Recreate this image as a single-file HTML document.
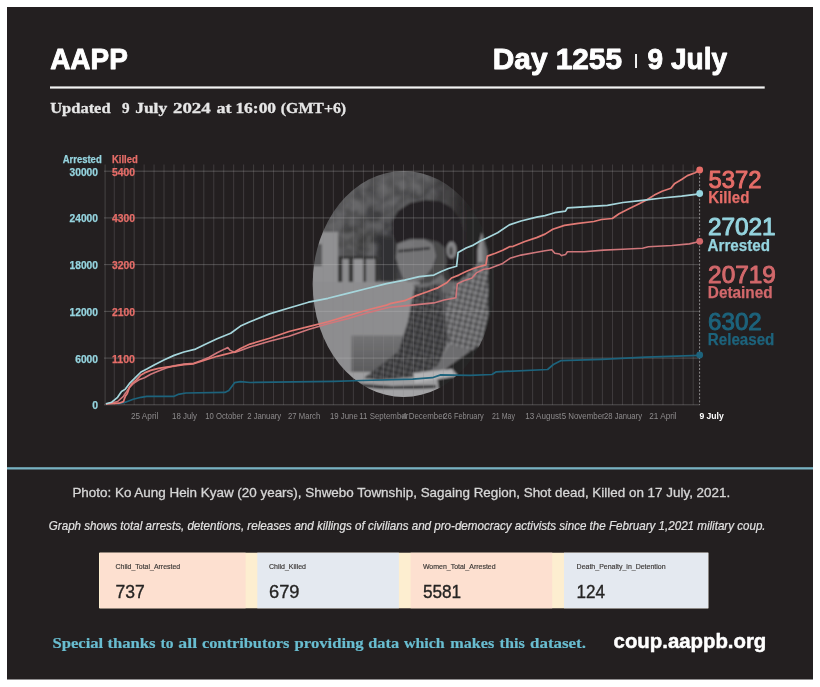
<!DOCTYPE html>
<html lang="en"><head><meta charset="utf-8"><title>AAPP - Day 1255</title>
<style>html,body{margin:0;padding:0;background:#fff;}body{width:820px;height:687px;overflow:hidden;}svg{display:block;}text{font-family:"Liberation Sans",sans-serif;}.serif{font-family:"Liberation Serif",serif;}</style>
</head><body>
<svg width="820" height="687" viewBox="0 0 820 687">
<defs>
<clipPath id="ell"><ellipse cx="403.5" cy="284" rx="90.8" ry="113"/></clipPath>
<filter id="b2" x="-20%" y="-20%" width="140%" height="140%"><feGaussianBlur stdDeviation="2"/></filter>
<filter id="b4" x="-30%" y="-30%" width="160%" height="160%"><feGaussianBlur stdDeviation="4"/></filter>
<filter id="noise" x="0" y="0" width="100%" height="100%"><feTurbulence type="fractalNoise" baseFrequency="0.09" numOctaves="2" seed="7"/><feColorMatrix type="matrix" values="0 0 0 0 0.27  0 0 0 0 0.27  0 0 0 0 0.28  1.8 1.8 0 0 -1.3"/></filter>
<filter id="b1" x="-10%" y="-10%" width="120%" height="120%"><feGaussianBlur stdDeviation="0.9"/></filter>
<pattern id="plaid" width="5.5" height="5.5" patternUnits="userSpaceOnUse" patternTransform="rotate(14)"><rect x="0" y="0" width="2.6" height="5.5" fill="#2e2e30" fill-opacity="0.42"/><rect x="0" y="0" width="5.5" height="2.6" fill="#2e2e30" fill-opacity="0.38"/><rect x="4" y="0" width="0.8" height="5.5" fill="#c8c8ca" fill-opacity="0.4"/><rect x="0" y="4" width="5.5" height="0.8" fill="#c8c8ca" fill-opacity="0.4"/></pattern>
</defs>
<rect x="7" y="7" width="806" height="672.5" fill="#231f20"/>
<text x="50.2" y="69" font-size="29" font-weight="700" fill="#fff" stroke="#fff" stroke-width="0.9" stroke-linejoin="round" textLength="77.6" lengthAdjust="spacingAndGlyphs">AAPP</text>
<text x="492.8" y="68.6" font-size="29" font-weight="700" fill="#fff" stroke="#fff" stroke-width="0.9" stroke-linejoin="round" textLength="129.2" lengthAdjust="spacingAndGlyphs">Day 1255</text>
<text x="636" y="65" font-size="14.4" font-weight="700" fill="#fff" text-anchor="middle">|</text>
<text x="647.6" y="68.6" font-size="29" font-weight="700" fill="#fff" stroke="#fff" stroke-width="0.9" stroke-linejoin="round" textLength="79.4" lengthAdjust="spacingAndGlyphs">9 July</text>
<rect x="50" y="86.4" width="714.7" height="2.2" fill="#f2f2f2"/>
<text class="serif" y="113" font-size="15" font-weight="700" fill="#e6e6e6" stroke="#e6e6e6" stroke-width="0.3"><tspan x="50.2" textLength="60.4" lengthAdjust="spacingAndGlyphs">Updated</tspan> <tspan x="122.0" textLength="7.6" lengthAdjust="spacingAndGlyphs">9</tspan> <tspan x="135.2" textLength="32.0" lengthAdjust="spacingAndGlyphs">July</tspan> <tspan x="173.0" textLength="37.7" lengthAdjust="spacingAndGlyphs">2024</tspan> <tspan x="216.5" textLength="15.0" lengthAdjust="spacingAndGlyphs">at</tspan> <tspan x="235.4" textLength="40.7" lengthAdjust="spacingAndGlyphs">16:00</tspan> <tspan x="280.8" textLength="65.3" lengthAdjust="spacingAndGlyphs">(GMT+6)</tspan></text>
<g id="photo" clip-path="url(#ell)">
<g filter="url(#b1)">
<rect x="300" y="160" width="210" height="250" fill="#a4a4a6"/>
<path d="M300,160 H510 V280 H376 V258 H338 V232 H300 Z" fill="#545456"/>
<g filter="url(#b4)">
<ellipse cx="395" cy="182" rx="30" ry="9" fill="#5e5e60"/>
<ellipse cx="350" cy="204" rx="13" ry="11" fill="#5e5e60"/>
<ellipse cx="360" cy="240" rx="22" ry="14" fill="#48484a"/>
<ellipse cx="334" cy="224" rx="9" ry="8" fill="#5e5e60"/>
<ellipse cx="378" cy="214" rx="11" ry="12" fill="#4a4a4c"/>
<ellipse cx="386" cy="246" rx="10" ry="22" fill="#39393b"/>
</g>
<rect x="300" y="160" width="210" height="100" filter="url(#noise)" opacity="0.55"/>
<linearGradient id="rdark" x1="0" y1="0" x2="1" y2="0"><stop offset="0" stop-color="#2c292a" stop-opacity="0"/><stop offset="1" stop-color="#2c292a" stop-opacity="1"/></linearGradient>
<rect x="428" y="160" width="40" height="125" fill="url(#rdark)"/>
<rect x="467" y="160" width="45" height="125" fill="#2c292a"/>
<rect x="378" y="236" width="19" height="48" fill="#38383a" filter="url(#b2)"/>
<path d="M397,244 L392,234 L392,222 L398,211 L410,203 L425,200 L440,201 L452,208 L460,219 L464,232 L464,250 L470,268 L480,262 L490,262 V282 H452 L446,264 L445,248 L438,242 L425,239 L410,239 Z" fill="#2b2829"/>
<path d="M300,232 H338 V284 H300 Z" fill="#a6a6a8"/>
<rect x="312" y="244" width="10" height="22" fill="#666668"/>
<rect x="338" y="256" width="40" height="27" fill="#3c3c3e"/>
<rect x="342.3" y="259" width="6.5" height="23" fill="#a3a3a5"/>
<rect x="353.2" y="259" width="10" height="23" fill="#a8a8aa"/>
<rect x="366" y="259" width="9" height="23" fill="#9a9a9c"/>
<path d="M397,244 L408,240 L425,240 L438,242 L445,248 L447,262 L442,274 L430,283 L412,285 L403,278 L399,268 L396,258 Z" fill="#555557"/>
<path d="M397,244 L408,240 L425,240 L433,244 L436,256 L432,268 L424,278 L411,284 L403,278 L399,268 L396,258 Z" fill="#858587"/>
<path d="M399,243 L412,241 L414,247 L400,249 Z" fill="#8e8e90" fill-opacity="0.5"/>
<path d="M398,250 L430,247 L430,249.5 L398,252.5 Z" fill="#3e3e40"/>
<ellipse cx="451.5" cy="250" rx="5" ry="8.5" fill="#9a9a9c"/>
<ellipse cx="451" cy="251" rx="2" ry="4.5" fill="#5a5a5c"/>
<path d="M481.7,232.5 L477.5,250 L477.5,268 L488,268 L486.5,250 Z" fill="#a8a8aa"/>
<path d="M481.7,232.5 L483,268 L488,268 L486.5,250 Z" fill="#7e7e80"/>
<path d="M300,282 H420 L418,300 L400,352 L360,378 L300,380 Z" fill="#a3a3a5"/>
<linearGradient id="boxg" x1="0" y1="0" x2="0" y2="1"><stop offset="0" stop-color="#858587"/><stop offset="1" stop-color="#6a6a6c"/></linearGradient>
<rect x="351.4" y="335.5" width="70" height="36.5" fill="url(#boxg)"/>
<rect x="300" y="372" width="210" height="40" fill="#b6b6b8"/>
<path d="M430,282 L446,280 L458,282 L470,272 L480,262 L488,262 L488,315 L481,345 L470,351 L450,346 L440,330 L436,300 Z" fill="#5c5c5e"/>
<path d="M448,283 L458,282 L470,272 L480,262 L488,262 L488,315 L481,345 L470,351 L450,346 L447,330 L445,310 Z" fill="#929294"/>
<path d="M448,283 L458,282 L470,272 L480,262 L488,262 L488,315 L481,345 L470,351 L450,346 L447,330 L445,310 Z" fill="url(#plaid)"/>
<path d="M415,284 L436,284 L445,318 L447,345 L437,368 L412,377 L380,380 L364,378 L398,352 L408,322 Z" fill="#464648"/>
<path d="M415,284 L436,284 L445,318 L447,345 L437,368 L412,377 L380,380 L364,378 L398,352 L408,322 Z" fill="url(#plaid)"/>
<path d="M449,345 L470,350 L452,364 L436,374 L420,377 L437,366 Z" fill="#7e7e80"/>
<path d="M470,351 L481,345 L488,315 L488,262 L510,262 L510,400 L440,400 L437,375 L452,364 Z" fill="#2c292a"/>
<path d="M440,282 L456,282 L450,294 L442,292 Z" fill="#78787a"/>
<path d="M412,285 L430,283 L442,274 L446,282 L420,288 Z" fill="#7c7c7e"/>
<path d="M413,373 L452,369 L458,376 L415,383 Z" fill="#cfcfd1"/>
<path d="M352,383 L392,386 L436,385 L436,388 L392,390 L352,386 Z" fill="#38383a"/>
<rect x="300" y="389" width="210" height="20" fill="#bdbdbf"/>
</g>
<rect x="300" y="160" width="210" height="250" fill="#000" fill-opacity="0.13"/>
</g>
<g stroke="#8c8a8b" stroke-opacity="0.28" stroke-width="1" fill="none">
<line x1="114.25" y1="164.5" x2="114.25" y2="404.8"/>
<line x1="124.20" y1="164.5" x2="124.20" y2="404.8"/>
<line x1="134.16" y1="164.5" x2="134.16" y2="404.8"/>
<line x1="144.11" y1="164.5" x2="144.11" y2="404.8"/>
<line x1="154.06" y1="164.5" x2="154.06" y2="404.8"/>
<line x1="164.01" y1="164.5" x2="164.01" y2="404.8"/>
<line x1="173.97" y1="164.5" x2="173.97" y2="404.8"/>
<line x1="183.92" y1="164.5" x2="183.92" y2="404.8"/>
<line x1="193.87" y1="164.5" x2="193.87" y2="404.8"/>
<line x1="203.82" y1="164.5" x2="203.82" y2="404.8"/>
<line x1="213.78" y1="164.5" x2="213.78" y2="404.8"/>
<line x1="223.73" y1="164.5" x2="223.73" y2="404.8"/>
<line x1="233.68" y1="164.5" x2="233.68" y2="404.8"/>
<line x1="243.63" y1="164.5" x2="243.63" y2="404.8"/>
<line x1="253.59" y1="164.5" x2="253.59" y2="404.8"/>
<line x1="263.54" y1="164.5" x2="263.54" y2="404.8"/>
<line x1="273.49" y1="164.5" x2="273.49" y2="404.8"/>
<line x1="283.44" y1="164.5" x2="283.44" y2="404.8"/>
<line x1="293.40" y1="164.5" x2="293.40" y2="404.8"/>
<line x1="303.35" y1="164.5" x2="303.35" y2="404.8"/>
<line x1="313.30" y1="164.5" x2="313.30" y2="404.8"/>
<line x1="323.32" y1="164.5" x2="323.32" y2="404.8"/>
<line x1="333.34" y1="164.5" x2="333.34" y2="404.8"/>
<line x1="343.35" y1="164.5" x2="343.35" y2="404.8"/>
<line x1="353.37" y1="164.5" x2="353.37" y2="404.8"/>
<line x1="363.39" y1="164.5" x2="363.39" y2="404.8"/>
<line x1="373.41" y1="164.5" x2="373.41" y2="404.8"/>
<line x1="383.43" y1="164.5" x2="383.43" y2="404.8"/>
<line x1="393.45" y1="164.5" x2="393.45" y2="404.8"/>
<line x1="403.46" y1="164.5" x2="403.46" y2="404.8"/>
<line x1="413.48" y1="164.5" x2="413.48" y2="404.8"/>
<line x1="423.50" y1="164.5" x2="423.50" y2="404.8"/>
<line x1="433.42" y1="164.5" x2="433.42" y2="404.8"/>
<line x1="443.34" y1="164.5" x2="443.34" y2="404.8"/>
<line x1="453.26" y1="164.5" x2="453.26" y2="404.8"/>
<line x1="463.18" y1="164.5" x2="463.18" y2="404.8"/>
<line x1="473.09" y1="164.5" x2="473.09" y2="404.8"/>
<line x1="483.01" y1="164.5" x2="483.01" y2="404.8"/>
<line x1="492.93" y1="164.5" x2="492.93" y2="404.8"/>
<line x1="502.85" y1="164.5" x2="502.85" y2="404.8"/>
<line x1="512.77" y1="164.5" x2="512.77" y2="404.8"/>
<line x1="522.69" y1="164.5" x2="522.69" y2="404.8"/>
<line x1="532.61" y1="164.5" x2="532.61" y2="404.8"/>
<line x1="542.53" y1="164.5" x2="542.53" y2="404.8"/>
<line x1="552.44" y1="164.5" x2="552.44" y2="404.8"/>
<line x1="562.36" y1="164.5" x2="562.36" y2="404.8"/>
<line x1="572.28" y1="164.5" x2="572.28" y2="404.8"/>
<line x1="582.20" y1="164.5" x2="582.20" y2="404.8"/>
<line x1="592.29" y1="164.5" x2="592.29" y2="404.8"/>
<line x1="602.38" y1="164.5" x2="602.38" y2="404.8"/>
<line x1="612.47" y1="164.5" x2="612.47" y2="404.8"/>
<line x1="622.56" y1="164.5" x2="622.56" y2="404.8"/>
<line x1="632.65" y1="164.5" x2="632.65" y2="404.8"/>
<line x1="642.75" y1="164.5" x2="642.75" y2="404.8"/>
<line x1="652.84" y1="164.5" x2="652.84" y2="404.8"/>
<line x1="662.93" y1="164.5" x2="662.93" y2="404.8"/>
<line x1="673.02" y1="164.5" x2="673.02" y2="404.8"/>
<line x1="683.11" y1="164.5" x2="683.11" y2="404.8"/>
<line x1="693.20" y1="164.5" x2="693.20" y2="404.8"/>
</g>
<g stroke="#c4c2c3" stroke-opacity="0.3" stroke-width="1" fill="none">
<line x1="104" y1="171.20" x2="700" y2="171.20"/>
<line x1="104" y1="217.92" x2="700" y2="217.92"/>
<line x1="104" y1="264.64" x2="700" y2="264.64"/>
<line x1="104" y1="311.36" x2="700" y2="311.36"/>
<line x1="104" y1="358.08" x2="700" y2="358.08"/>
<line x1="104" y1="404.80" x2="700" y2="404.80"/>
<line x1="105.1" y1="164.5" x2="105.1" y2="404.8" stroke-opacity="0.22"/>
</g>
<line x1="699.6" y1="170" x2="699.6" y2="404.8" stroke="#8f8d8e" stroke-width="1" stroke-dasharray="2 1.6"/>
<path d="M117.6,404.0 L125.4,402.2 L133.2,399.3 L141.0,397.3 L146.8,396.3 L174.1,396.3 L178.0,394.4 L185.9,393.0 L224.9,392.4 L228.8,390.5 L234.6,382.7 L240.5,381.7 L250.0,382.5 L334.0,381.3 L362.0,380.5 L412.7,379.1 L432.3,377.7 L440.7,374.9 L470.0,375.4 L492.0,374.5 L496.3,371.8 L547.6,369.5 L553.4,364.5 L560.7,360.7 L601.7,359.3 L645.6,357.2 L699.7,355.3" fill="none" stroke="#1d637c" stroke-width="1.7" stroke-linejoin="round"/>
<path d="M105.9,404.0 L111.7,403.0 L117.6,401.5 L123.4,396.3 L129.3,387.6 L133.2,383.7 L139.0,379.8 L144.5,377.8 L150.7,374.3 L158.5,371.0 L166.3,368.0 L174.1,365.7 L183.9,364.1 L193.7,363.2 L201.5,360.6 L209.3,357.3 L217.1,352.8 L224.9,348.9 L227.8,347.6 L229.8,350.1 L234.6,352.4 L240.5,350.5 L250.0,347.0 L269.5,341.2 L289.0,336.3 L308.5,329.5 L328.0,323.7 L347.6,318.8 L367.0,312.9 L386.6,308.0 L390.0,307.3 L404.6,305.9 L419.3,304.4 L433.9,302.9 L444.1,300.0 L455.9,297.8 L457.3,283.9 L463.2,281.0 L472.0,278.0 L476.3,272.9 L483.7,269.3 L489.5,268.5 L495.4,266.3 L502.7,263.4 L510.0,258.3 L521.0,255.1 L536.6,252.2 L545.0,250.7 L551.8,249.8 L554.8,253.3 L559.6,254.0 L561.6,255.6 L565.5,254.6 L567.4,251.7 L584.0,251.7 L603.5,250.1 L623.0,249.2 L642.6,248.2 L648.4,246.8 L671.8,245.5 L689.4,243.9 L699.7,241.5" fill="none" stroke="#cf777b" stroke-width="1.6" stroke-linejoin="round"/>
<path d="M105.9,404.0 L119.0,403.2 L123.4,401.6 L125.4,396.2 L127.3,393.4 L129.3,387.6 L132.2,383.3 L136.1,380.1 L141.0,374.9 L144.5,372.9 L150.7,370.4 L158.5,368.4 L166.3,367.1 L174.1,366.1 L183.9,364.7 L193.7,363.8 L201.5,361.2 L209.3,358.7 L217.1,356.3 L224.9,354.4 L234.6,352.0 L240.5,348.5 L250.0,344.1 L269.5,338.3 L289.0,331.5 L308.5,326.6 L328.0,321.7 L347.6,315.9 L367.0,310.0 L386.6,305.1 L390.0,303.7 L404.6,300.7 L416.3,295.6 L426.6,292.0 L438.3,287.6 L447.1,282.4 L451.5,278.0 L458.8,275.1 L466.1,271.5 L473.4,268.5 L480.7,266.3 L485.9,264.9 L487.3,256.1 L495.4,253.2 L502.7,250.2 L510.0,246.6 L513.2,246.3 L524.9,241.5 L536.6,237.6 L545.0,234.1 L552.8,229.3 L564.5,225.4 L578.2,223.4 L593.8,221.5 L601.6,219.5 L612.3,218.5 L619.1,213.7 L628.9,208.8 L638.7,203.9 L646.5,200.0 L654.3,195.1 L662.1,191.2 L670.9,188.3 L674.8,183.4 L681.6,179.5 L687.4,175.6 L695.2,172.7 L699.7,170.0" fill="none" stroke="#e27a75" stroke-width="1.7" stroke-linejoin="round"/>
<path d="M105.9,403.8 L111.7,402.2 L117.6,397.3 L121.5,391.5 L125.4,389.1 L129.3,383.7 L135.1,377.8 L141.0,372.0 L146.8,369.0 L154.6,364.7 L164.4,359.7 L174.1,355.4 L183.9,352.0 L195.6,349.1 L205.4,344.2 L217.1,338.8 L230.7,333.3 L240.5,326.1 L250.0,321.7 L269.5,313.9 L289.0,308.0 L308.5,302.2 L328.0,298.3 L347.6,293.4 L367.0,288.5 L386.6,283.7 L404.6,280.2 L419.3,276.6 L433.9,275.1 L441.2,271.5 L448.5,268.5 L456.6,266.3 L458.1,252.4 L466.1,248.0 L473.4,245.1 L480.7,240.7 L485.9,238.5 L497.6,232.7 L509.3,224.9 L521.0,221.0 L536.6,217.1 L545.0,215.6 L554.8,212.7 L565.5,211.1 L567.4,207.8 L584.0,206.8 L607.4,205.3 L623.0,202.5 L642.6,200.4 L662.1,198.0 L681.6,196.1 L699.7,193.8" fill="none" stroke="#a6d6dc" stroke-width="1.7" stroke-linejoin="round"/>
<circle cx="699.7" cy="355" r="3.4" fill="#1d637c"/>
<circle cx="699.7" cy="241.3" r="3.4" fill="#d2686b"/>
<circle cx="699.7" cy="193.5" r="3.4" fill="#95d4df"/>
<circle cx="699.7" cy="170" r="3.4" fill="#e66d68"/>
<text x="62.7" y="162.5" font-size="10" font-weight="700" fill="#95d4df" stroke="#95d4df" stroke-width="0.25" textLength="39" lengthAdjust="spacingAndGlyphs">Arrested</text>
<text x="112" y="162.5" font-size="10" font-weight="700" fill="#e66d68" stroke="#e66d68" stroke-width="0.25" textLength="25.8" lengthAdjust="spacingAndGlyphs">Killed</text>
<text x="98" y="175.6" font-size="10.5" font-weight="700" fill="#95d4df" stroke="#95d4df" stroke-width="0.25" text-anchor="end" textLength="28.5" lengthAdjust="spacingAndGlyphs">30000</text>
<text x="112" y="175.6" font-size="10.5" font-weight="700" fill="#e66d68" stroke="#e66d68" stroke-width="0.25" textLength="23" lengthAdjust="spacingAndGlyphs">5400</text>
<text x="98" y="222.3" font-size="10.5" font-weight="700" fill="#95d4df" stroke="#95d4df" stroke-width="0.25" text-anchor="end" textLength="28.5" lengthAdjust="spacingAndGlyphs">24000</text>
<text x="112" y="222.3" font-size="10.5" font-weight="700" fill="#e66d68" stroke="#e66d68" stroke-width="0.25" textLength="23" lengthAdjust="spacingAndGlyphs">4300</text>
<text x="98" y="269.0" font-size="10.5" font-weight="700" fill="#95d4df" stroke="#95d4df" stroke-width="0.25" text-anchor="end" textLength="28.5" lengthAdjust="spacingAndGlyphs">18000</text>
<text x="112" y="269.0" font-size="10.5" font-weight="700" fill="#e66d68" stroke="#e66d68" stroke-width="0.25" textLength="23" lengthAdjust="spacingAndGlyphs">3200</text>
<text x="98" y="315.8" font-size="10.5" font-weight="700" fill="#95d4df" stroke="#95d4df" stroke-width="0.25" text-anchor="end" textLength="28.5" lengthAdjust="spacingAndGlyphs">12000</text>
<text x="112" y="315.8" font-size="10.5" font-weight="700" fill="#e66d68" stroke="#e66d68" stroke-width="0.25" textLength="23" lengthAdjust="spacingAndGlyphs">2100</text>
<text x="98" y="362.5" font-size="10.5" font-weight="700" fill="#95d4df" stroke="#95d4df" stroke-width="0.25" text-anchor="end" textLength="22.8" lengthAdjust="spacingAndGlyphs">6000</text>
<text x="112" y="362.5" font-size="10.5" font-weight="700" fill="#e66d68" stroke="#e66d68" stroke-width="0.25" textLength="23" lengthAdjust="spacingAndGlyphs">1100</text>
<text x="98" y="409.2" font-size="10.5" font-weight="700" fill="#95d4df" stroke="#95d4df" stroke-width="0.25" text-anchor="end" textLength="5.8" lengthAdjust="spacingAndGlyphs">0</text>
<text x="144.6" y="419" font-size="9.5" fill="#8d8b8c" text-anchor="middle" textLength="27.3" lengthAdjust="spacingAndGlyphs">25 April</text>
<text x="184.5" y="419" font-size="9.5" fill="#8d8b8c" text-anchor="middle" textLength="25" lengthAdjust="spacingAndGlyphs">18 July</text>
<text x="224.3" y="419" font-size="9.5" fill="#8d8b8c" text-anchor="middle" textLength="38.1" lengthAdjust="spacingAndGlyphs">10 October</text>
<text x="264.2" y="419" font-size="9.5" fill="#8d8b8c" text-anchor="middle" textLength="34" lengthAdjust="spacingAndGlyphs">2 January</text>
<text x="304.1" y="419" font-size="9.5" fill="#8d8b8c" text-anchor="middle" textLength="32.2" lengthAdjust="spacingAndGlyphs">27 March</text>
<text x="343.9" y="419" font-size="9.5" fill="#8d8b8c" text-anchor="middle" textLength="27.9" lengthAdjust="spacingAndGlyphs">19 June</text>
<text x="383.8" y="419" font-size="9.5" fill="#8d8b8c" text-anchor="middle" textLength="49" lengthAdjust="spacingAndGlyphs">11 September</text>
<text x="423.7" y="419" font-size="9.5" fill="#8d8b8c" text-anchor="middle" textLength="43" lengthAdjust="spacingAndGlyphs">4 December</text>
<text x="463.6" y="419" font-size="9.5" fill="#8d8b8c" text-anchor="middle" textLength="40" lengthAdjust="spacingAndGlyphs">26 February</text>
<text x="503.4" y="419" font-size="9.5" fill="#8d8b8c" text-anchor="middle" textLength="23" lengthAdjust="spacingAndGlyphs">21 May</text>
<text x="543.3" y="419" font-size="9.5" fill="#8d8b8c" text-anchor="middle" textLength="36" lengthAdjust="spacingAndGlyphs">13 August</text>
<text x="583.2" y="419" font-size="9.5" fill="#8d8b8c" text-anchor="middle" textLength="43" lengthAdjust="spacingAndGlyphs">5 November</text>
<text x="623.0" y="419" font-size="9.5" fill="#8d8b8c" text-anchor="middle" textLength="38" lengthAdjust="spacingAndGlyphs">28 January</text>
<text x="662.9" y="419" font-size="9.5" fill="#8d8b8c" text-anchor="middle" textLength="27.3" lengthAdjust="spacingAndGlyphs">21 April</text>
<text x="699.4" y="419" font-size="9.5" font-weight="700" fill="#fff" textLength="24.4" lengthAdjust="spacingAndGlyphs">9 July</text>
<text x="708.4" y="188.4" font-size="24.8" fill="#e66d68" stroke="#e66d68" stroke-width="1.0" stroke-linejoin="round" textLength="53.0" lengthAdjust="spacingAndGlyphs">5372</text>
<text x="708.2" y="203" font-size="16.3" font-weight="700" fill="#e66d68" stroke="#e66d68" stroke-width="0.25" textLength="41.2" lengthAdjust="spacingAndGlyphs">Killed</text>
<text x="707.9" y="234.9" font-size="24.8" fill="#95d4df" stroke="#95d4df" stroke-width="1.0" stroke-linejoin="round" textLength="67.8" lengthAdjust="spacingAndGlyphs">27021</text>
<text x="707.5" y="251" font-size="16.3" font-weight="700" fill="#95d4df" stroke="#95d4df" stroke-width="0.25" textLength="62.5" lengthAdjust="spacingAndGlyphs">Arrested</text>
<text x="708.1" y="283.1" font-size="24.8" fill="#d2686b" stroke="#d2686b" stroke-width="1.0" stroke-linejoin="round" textLength="67.8" lengthAdjust="spacingAndGlyphs">20719</text>
<text x="707.8" y="297.9" font-size="16.3" font-weight="700" fill="#d2686b" stroke="#d2686b" stroke-width="0.25" textLength="64.9" lengthAdjust="spacingAndGlyphs">Detained</text>
<text x="708.1" y="329.9" font-size="24.8" fill="#1d637c" stroke="#1d637c" stroke-width="1.0" stroke-linejoin="round" textLength="53.6" lengthAdjust="spacingAndGlyphs">6302</text>
<text x="707.8" y="345.2" font-size="16.3" font-weight="700" fill="#1d637c" stroke="#1d637c" stroke-width="0.25" textLength="66.6" lengthAdjust="spacingAndGlyphs">Released</text>
<rect x="7" y="467.2" width="806" height="2.3" fill="#78b1c1"/>
<text x="72.4" y="496.8" font-size="12.6" fill="#d6d6d6" stroke="#d6d6d6" stroke-width="0.3" textLength="657.8" lengthAdjust="spacingAndGlyphs">Photo: Ko Aung Hein Kyaw (20 years), Shwebo Township, Sagaing Region, Shot dead, Killed on 17 July, 2021.</text>
<text x="48.8" y="530" font-size="12.2" font-style="italic" fill="#e2e2e2" stroke="#e2e2e2" stroke-width="0.2" textLength="716.8" lengthAdjust="spacingAndGlyphs">Graph shows total arrests, detentions, releases and killings of civilians and pro-democracy activists since the February 1,2021 military coup.</text>
<rect x="99" y="552.7" width="609.3" height="55.6" fill="#fdeed0"/>
<rect x="100" y="552.7" width="145.6" height="55.6" fill="#fde0d0"/>
<rect x="257.3" y="552.7" width="141.6" height="55.6" fill="#e4e9f0"/>
<rect x="410.6" y="552.7" width="141.6" height="55.6" fill="#fde0d0"/>
<rect x="564" y="552.7" width="144.3" height="55.6" fill="#e4e9f0"/>
<text x="115.6" y="568.6" font-size="7" fill="#3a3735" stroke="#3a3735" stroke-width="0.15" textLength="64.6" lengthAdjust="spacingAndGlyphs">Child_Total_Arrested</text>
<text x="115.6" y="597.7" font-size="18.7" fill="#252423" stroke="#252423" stroke-width="0.35" textLength="29.3" lengthAdjust="spacingAndGlyphs">737</text>
<text x="269" y="568.6" font-size="7" fill="#3a3735" stroke="#3a3735" stroke-width="0.15" textLength="37" lengthAdjust="spacingAndGlyphs">Child_Killed</text>
<text x="269" y="597.7" font-size="18.7" fill="#252423" stroke="#252423" stroke-width="0.35" textLength="30.5" lengthAdjust="spacingAndGlyphs">679</text>
<text x="422.9" y="568.6" font-size="7" fill="#3a3735" stroke="#3a3735" stroke-width="0.15" textLength="72.7" lengthAdjust="spacingAndGlyphs">Women_Total_Arrested</text>
<text x="422.9" y="597.7" font-size="18.7" fill="#252423" stroke="#252423" stroke-width="0.35" textLength="38.3" lengthAdjust="spacingAndGlyphs">5581</text>
<text x="576.6" y="568.6" font-size="7" fill="#3a3735" stroke="#3a3735" stroke-width="0.15" textLength="89" lengthAdjust="spacingAndGlyphs">Death_Penalty_in_Detention</text>
<text x="576.6" y="597.7" font-size="18.7" fill="#252423" stroke="#252423" stroke-width="0.35" textLength="28.5" lengthAdjust="spacingAndGlyphs">124</text>
<text class="serif" y="648.3" font-size="15.6" font-weight="700" fill="#69bdd0" stroke="#69bdd0" stroke-width="0.2"><tspan x="52.4" textLength="50.8" lengthAdjust="spacingAndGlyphs">Special</tspan> <tspan x="107.5" textLength="48.1" lengthAdjust="spacingAndGlyphs">thanks</tspan> <tspan x="160.5" textLength="12.9" lengthAdjust="spacingAndGlyphs">to</tspan> <tspan x="178.3" textLength="18.8" lengthAdjust="spacingAndGlyphs">all</tspan> <tspan x="201.9" textLength="87.4" lengthAdjust="spacingAndGlyphs">contributors</tspan> <tspan x="294.6" textLength="69.1" lengthAdjust="spacingAndGlyphs">providing</tspan> <tspan x="368.3" textLength="30.8" lengthAdjust="spacingAndGlyphs">data</tspan> <tspan x="403.9" textLength="40.8" lengthAdjust="spacingAndGlyphs">which</tspan> <tspan x="450.2" textLength="44.0" lengthAdjust="spacingAndGlyphs">makes</tspan> <tspan x="499.5" textLength="25.2" lengthAdjust="spacingAndGlyphs">this</tspan> <tspan x="530.0" textLength="56.0" lengthAdjust="spacingAndGlyphs">dataset.</tspan></text>
<text x="613.6" y="648" font-size="21" font-weight="700" fill="#fff" stroke="#fff" stroke-width="0.5" stroke-linejoin="round" textLength="152.7" lengthAdjust="spacingAndGlyphs">coup.aappb.org</text>
</svg>
</body></html>
